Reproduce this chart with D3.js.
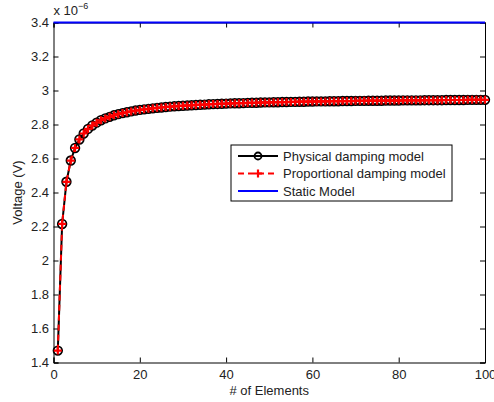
<!DOCTYPE html>
<html>
<head>
<meta charset="utf-8">
<script src="https://cdn.jsdelivr.net/npm/d3@7"></script>
<style>
  body { margin: 0; background: #fff; }
  text { font-family: 'Liberation Sans', Arial, sans-serif; }
</style>
</head>
<body>
<svg id="chart" width="494" height="402"></svg>
<script>
// values in units of 1e-6 V, elements 1..100
const elements = d3.range(1, 101)
const physical = [
  1.470, 2.215, 2.463, 2.588, 2.662, 2.712, 2.747, 2.774, 2.794, 2.811,
  2.825, 2.836, 2.845, 2.854, 2.861, 2.867, 2.872, 2.877, 2.882, 2.886,
  2.889, 2.892, 2.895, 2.898, 2.900, 2.903, 2.905, 2.907, 2.909, 2.910,
  2.912, 2.913, 2.915, 2.916, 2.917, 2.919, 2.920, 2.921, 2.922, 2.923,
  2.924, 2.925, 2.925, 2.926, 2.927, 2.928, 2.928, 2.929, 2.930, 2.930,
  2.931, 2.931, 2.932, 2.932, 2.933, 2.933, 2.934, 2.934, 2.935, 2.935,
  2.936, 2.936, 2.936, 2.937, 2.937, 2.937, 2.938, 2.938, 2.938, 2.939,
  2.939, 2.939, 2.940, 2.940, 2.940, 2.940, 2.941, 2.941, 2.941, 2.941,
  2.942, 2.942, 2.942, 2.942, 2.942, 2.943, 2.943, 2.943, 2.943, 2.943,
  2.944, 2.944, 2.944, 2.944, 2.944, 2.945, 2.945, 2.945, 2.945, 2.945
]
const proportional = physical.slice()
const staticModel = [3.4, 3.4]
const staticX = [0, 100]

const xTicks = [0, 20, 40, 60, 80, 100]
const yTicks = [1.4, 1.6, 1.8, 2, 2.2, 2.4, 2.6, 2.8, 3, 3.2, 3.4]

const margin = { top: 22.5, left: 53.5, right: 9, bottom: 39.5 }
const W = 494, H = 402
const width = W - margin.left - margin.right
const height = H - margin.top - margin.bottom
const fs = 13

const svg = d3.select('#chart')
const g = svg.append('g').attr('transform', 'translate(' + margin.left + ',' + margin.top + ')')

const x = d3.scaleLinear().domain([0, 100]).range([0, width])
const y = d3.scaleLinear().domain([1.4, 3.4]).range([height, 0])

// axes (box with inward ticks)
const tl = 5
const xAxis = g.append('g').attr('transform', 'translate(0,' + height + ')')
  .call(d3.axisBottom(x).tickValues(xTicks).tickSize(-tl).tickPadding(7).tickFormat(d3.format('d')))
const yAxis = g.append('g')
  .call(d3.axisLeft(y).tickValues(yTicks).tickSize(-tl).tickPadding(4.5).tickFormat(d => d3.format('~g')(d)))
const xTop = g.append('g').call(d3.axisTop(x).tickValues(xTicks).tickSize(-tl).tickFormat(''))
const yRight = g.append('g').attr('transform', 'translate(' + width + ',0)')
  .call(d3.axisRight(y).tickValues(yTicks).tickSize(-tl).tickFormat(''))

;[xAxis, yAxis, xTop, yRight].forEach(a => {
  a.select('.domain').attr('stroke', '#000').attr('stroke-width', 1)
  a.selectAll('.tick line').attr('stroke', '#000')
  a.selectAll('.tick text').attr('font-size', fs).attr('fill', '#222')
    .style('font-family', "'Liberation Sans', Arial, sans-serif")
})

const line = d3.line().x((d, i) => x(elements[i])).y(d => y(d))

// physical damping model
g.append('path').datum(physical).attr('d', line)
  .attr('fill', 'none').attr('stroke', '#000').attr('stroke-width', 2)
g.selectAll('.circ').data(physical).join('circle')
  .attr('cx', (d, i) => x(elements[i])).attr('cy', d => y(d)).attr('r', 4.3)
  .attr('fill', 'none').attr('stroke', '#000').attr('stroke-width', 1.8)

// proportional damping model
g.append('path').datum(proportional).attr('d', line)
  .attr('fill', 'none').attr('stroke', '#f00').attr('stroke-width', 2)
  .attr('stroke-dasharray', '6,4')
g.selectAll('.plus').data(proportional).join('path')
  .attr('d', (d, i) => {
    const cx = x(elements[i]), cy = y(d), s = 4
    return 'M' + (cx - s) + ',' + cy + 'H' + (cx + s) + 'M' + cx + ',' + (cy - s) + 'V' + (cy + s)
  })
  .attr('stroke', '#f00').attr('stroke-width', 2.2).attr('fill', 'none')

// static model
g.append('path').datum(staticModel)
  .attr('d', d3.line().x((d, i) => x(staticX[i])).y(d => y(d)))
  .attr('fill', 'none').attr('stroke', '#00f').attr('stroke-width', 2)

// exponent label
const ex = svg.append('text').attr('x', margin.left).attr('y', 15).attr('font-size', fs).attr('fill', '#222')
ex.append('tspan').text('x 10')
ex.append('tspan').text('\u22126').attr('font-size', 9).attr('dy', -6)

// axis labels
svg.append('text').text('# of Elements').attr('x', margin.left + width / 2).attr('y', 395)
  .attr('text-anchor', 'middle').attr('font-size', fs).attr('fill', '#222')
svg.append('text').text('Voltage (V)')
  .attr('transform', 'translate(21.5,' + (margin.top + height / 2) + ') rotate(-90)')
  .attr('text-anchor', 'middle').attr('font-size', fs).attr('fill', '#222')

// legend
const legend = svg.append('g').attr('transform', 'translate(231,145)')
legend.append('rect').attr('width', 221).attr('height', 56)
  .attr('fill', '#fff').attr('stroke', '#000').attr('stroke-width', 1)
const items = [
  { label: 'Physical damping model', color: '#000', dash: null, marker: 'circle' },
  { label: 'Proportional damping model', color: '#f00', dash: '6,4', marker: 'plus' },
  { label: 'Static Model', color: '#00f', dash: null, marker: null }
]
items.forEach((it, i) => {
  const yy = 11 + i * 17.5
  legend.append('line').attr('x1', 7).attr('x2', 47).attr('y1', yy).attr('y2', yy)
    .attr('stroke', it.color).attr('stroke-width', 2).attr('stroke-dasharray', it.dash)
  if (it.marker === 'circle') {
    legend.append('circle').attr('cx', 27).attr('cy', yy).attr('r', 3.5)
      .attr('fill', 'none').attr('stroke', '#000').attr('stroke-width', 1.8)
  } else if (it.marker === 'plus') {
    legend.append('path').attr('d', 'M23,' + yy + 'H31M27,' + (yy - 4) + 'V' + (yy + 4))
      .attr('stroke', '#f00').attr('stroke-width', 2.2)
  }
  legend.append('text').text(it.label).attr('x', 52).attr('y', yy + 4.5).attr('font-size', fs).attr('fill', '#222')
})
</script>
</body>
</html>
